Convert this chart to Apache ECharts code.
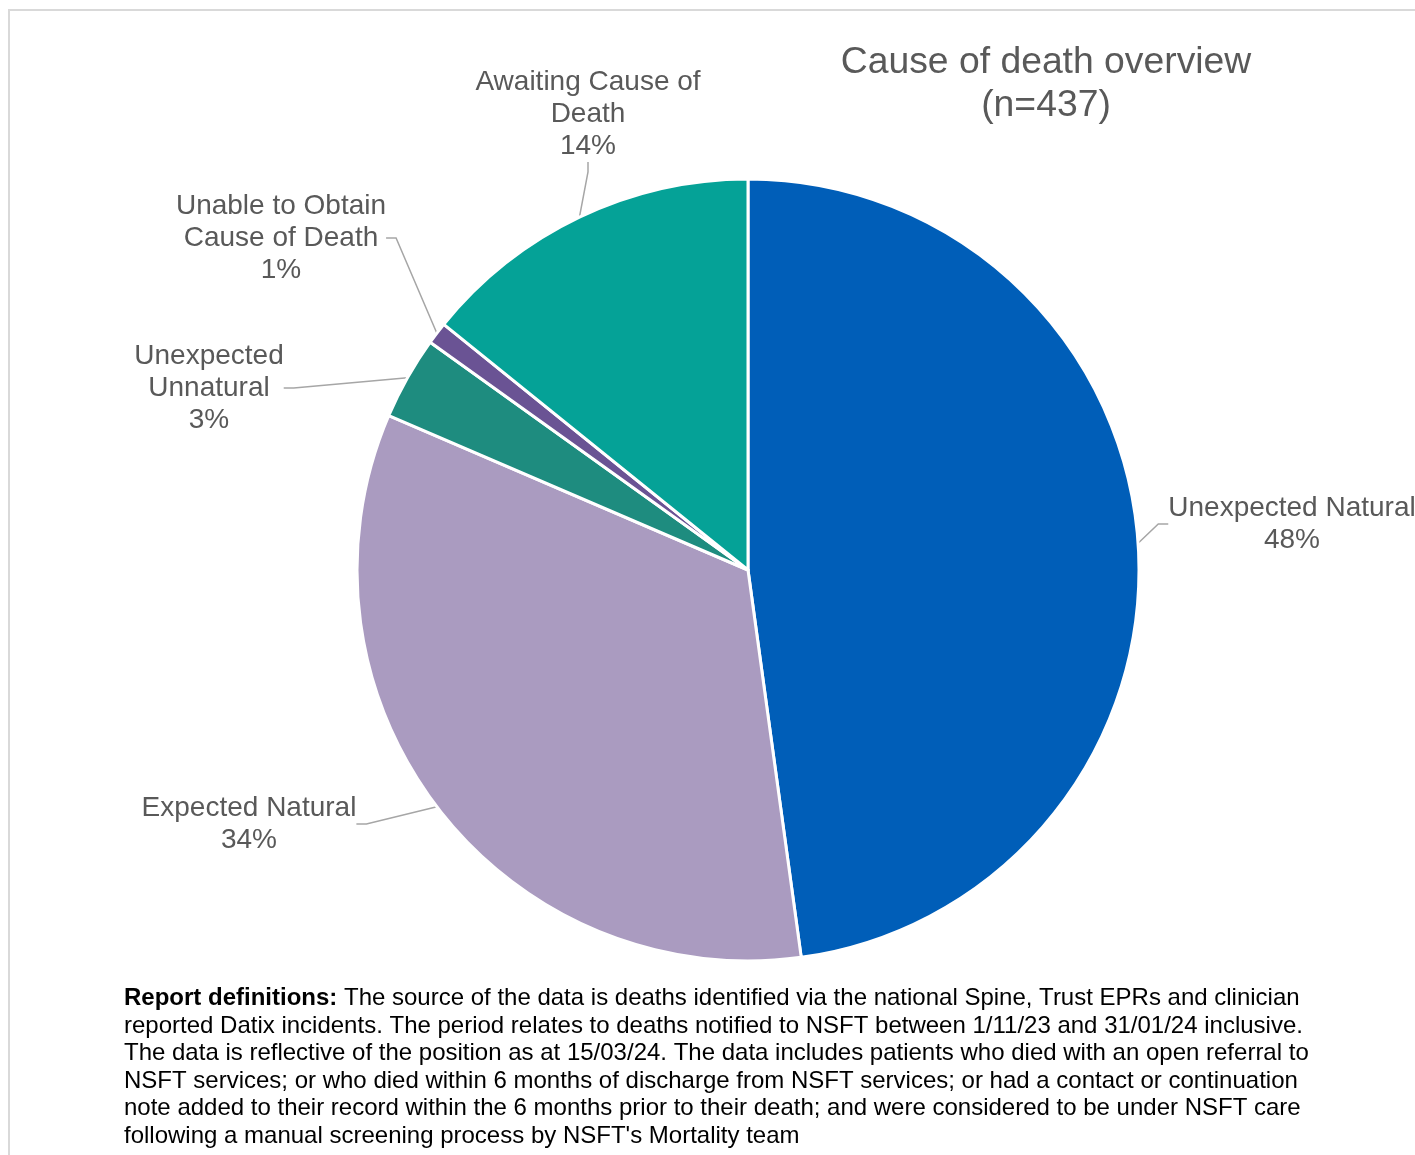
<!DOCTYPE html>
<html>
<head>
<meta charset="utf-8">
<script src="https://cdn.jsdelivr.net/npm/echarts@6/dist/echarts.min.js"></script>
<style>
html,body{margin:0;padding:0;background:#fff;}
#chart{width:1415px;height:1155px;}
</style>
</head>
<body>
<div id="chart"></div>
<script>
const categories = ["Unexpected Natural", "Expected Natural", "Unexpected Unnatural", "Unable to Obtain Cause of Death", "Awaiting Cause of Death"];
const labelNames = ["Unexpected Natural", "Expected Natural", "Unexpected\nUnnatural", "Unable to Obtain\nCause of Death", "Awaiting Cause of\nDeath"];
const counts = [209, 147, 15, 4, 62];
const colors = ["#005EB8", "#AA9BC0", "#1E8C7F", "#6A5394", "#05A297"];
const titleText = "Cause of death overview\n(n=437)";
const footerBold = "Report definitions:";
const footerLines = [
  " The source of the data is deaths identified via the national Spine, Trust EPRs and clinician",
  "reported Datix incidents. The period relates to deaths notified to NSFT between 1/11/23 and 31/01/24 inclusive.",
  "The data is reflective of the position as at 15/03/24. The data includes patients who died with an open referral to",
  "NSFT services; or who died within 6 months of discharge from NSFT services; or had a contact or continuation",
  "note added to their record within the 6 months prior to their death; and were considered to be under NSFT care",
  "following a manual screening process by NSFT's Mortality team"
];

const labelPos = [[1292, 524], [249, 824], [209, 388], [281, 238], [588, 114]];

const chart = echarts.init(document.getElementById('chart'), null, {renderer: 'canvas'});
const font = "Arial, 'Liberation Sans', sans-serif";
chart.setOption({
  backgroundColor: '#fff',
  animation: false,
  title: {
    text: titleText,
    left: 1041,
    top: 36,
    textAlign: 'center',
    textStyle: {fontFamily: font, fontSize: 37.3, fontWeight: 'normal', color: '#595959', lineHeight: 43}
  },
  graphic: [
    {type: 'rect', shape: {x: 9, y: 10, width: 1420, height: 1160}, style: {fill: 'none', stroke: '#D9D9D9', lineWidth: 2}, z: 0},
    {
      type: 'text', left: 124, top: 985,
      style: {
        text: '{b|' + footerBold + '}{n|' + footerLines[0] + '}\n' + footerLines.slice(1).map(l => '{n|' + l + '}').join('\n'),
        fontFamily: font, fontSize: 24, lineHeight: 27.5, fill: '#000',
        rich: {
          b: {fontFamily: font, fontSize: 24, fontWeight: 'bold', lineHeight: 27.5, fill: '#000'},
          n: {fontFamily: font, fontSize: 24, lineHeight: 27.5, fill: '#000'}
        }
      }
    }
  ],
  series: [{
    type: 'pie',
    center: [748, 570],
    radius: 391,
    startAngle: 90,
    clockwise: true,
    percentPrecision: 0,
    data: categories.map((c, i) => ({name: c, value: counts[i], itemStyle: {color: colors[i]}})),
    itemStyle: {borderColor: '#fff', borderWidth: 3},
    label: {
      show: true,
      position: 'outside',
      overflow: 'none',
      formatter: p => labelNames[p.dataIndex] + '\n' + Math.round(p.percent) + '%',
      fontFamily: font, fontSize: 28, lineHeight: 32, color: '#595959', align: 'center'
    },
    labelLine: {show: true, length: 20, length2: 10, lineStyle: {color: '#A6A6A6', width: 1.5}},
    labelLayout: function (params) {
      const p = labelPos[params.dataIndex];
      return {x: p[0], y: p[1], align: 'center', verticalAlign: 'middle'};
    },
    emphasis: {disabled: true}
  }]
});
</script>
</body>
</html>
